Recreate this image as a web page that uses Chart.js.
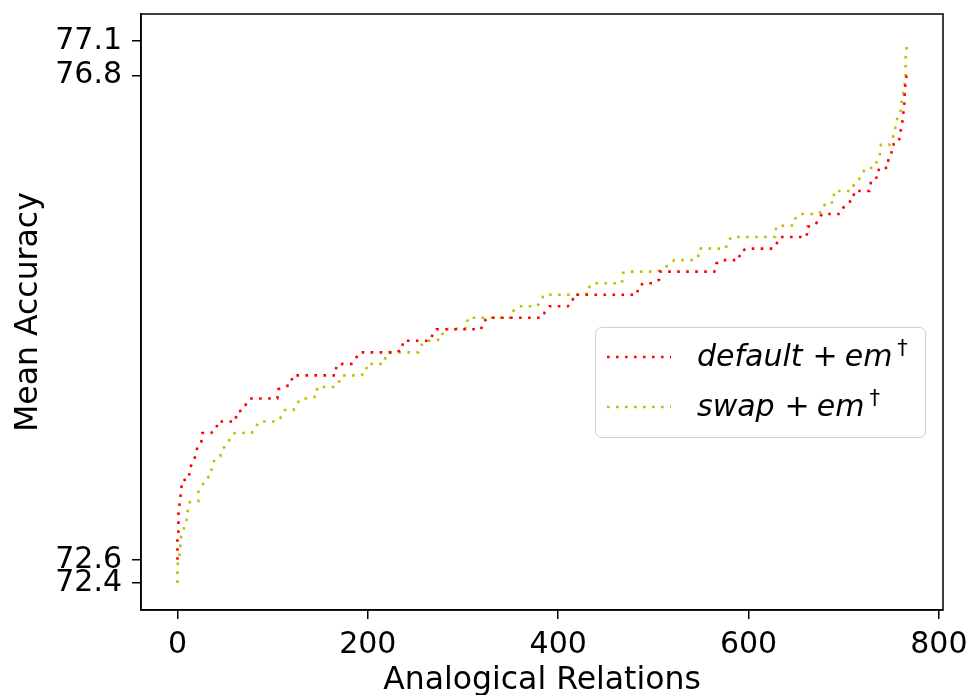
<!DOCTYPE html>
<html>
<head>
<meta charset="utf-8">
<script src="https://cdn.jsdelivr.net/npm/chart.js@4/dist/chart.umd.min.js"></script>
<style>
  html, body { margin: 0; padding: 0; background: #fff; }
  #wrap { width: 968px; height: 695px; }
</style>
</head>
<body>
<div id="wrap"><canvas id="accChart" width="968" height="695"></canvas></div>
<script>
// values (x = relation index, y = mean accuracy)
const defaultX = [0, 0, 0, 1, 1, 1, 2, 3, 4, 5, 12, 13, 16, 19, 21, 25, 26, 35, 41, 42, 61, 62, 69, 72, 76, 105,
  106, 112, 119, 121, 166, 167, 174, 183, 187, 191, 229, 236, 237, 265, 268, 272, 319, 321, 326, 383, 386, 391,
  410, 415, 416, 483, 484, 490, 500, 506, 507, 564, 566, 571, 590, 591, 598, 626, 630, 633, 661, 662, 669, 674,
  677, 696, 700, 704, 710, 711, 727, 729, 736, 737, 746, 747, 750, 751, 758, 759, 761, 762, 763, 764, 764, 765, 766];
const defaultY = [72.6, 72.7, 72.77, 72.85, 72.92, 73.0, 73.07, 73.14, 73.21, 73.29, 73.3, 73.39, 73.45, 73.5, 73.58,
  73.62, 73.7, 73.7, 73.73, 73.8, 73.8, 73.88, 73.9, 73.95, 74.0, 74.0, 74.08, 74.1, 74.12, 74.2, 74.2, 74.29, 74.3,
  74.3, 74.34, 74.4, 74.4, 74.42, 74.5, 74.5, 74.55, 74.6, 74.6, 74.66, 74.7, 74.7, 74.75, 74.8, 74.8, 74.83, 74.9,
  74.9, 74.97, 75.0, 75.0, 75.03, 75.1, 75.1, 75.17, 75.2, 75.2, 75.27, 75.3, 75.3, 75.35, 75.4, 75.4, 75.49, 75.5,
  75.55, 75.6, 75.6, 75.66, 75.7, 75.72, 75.8, 75.8, 75.9, 75.92, 76.0, 76.0, 76.08, 76.12, 76.2, 76.22, 76.3, 76.36,
  76.43, 76.5, 76.58, 76.66, 76.74, 76.8];

const swapX = [0, 0, 0, 2, 3, 3, 8, 10, 11, 13, 22, 22, 26, 29, 35, 36, 39, 45, 47, 52, 55, 60, 78, 82, 86, 105, 110,
  113, 122, 125, 130, 139, 146, 147, 166, 170, 173, 192, 198, 199, 217, 219, 225, 253, 256, 261, 271, 278, 279, 304,
  305, 351, 353, 359, 378, 382, 385, 423, 432, 433, 440, 467, 468, 476, 504, 517, 522, 540, 547, 548, 576, 578, 582,
  628, 629, 638, 647, 649, 654, 674, 678, 681, 689, 690, 708, 711, 716, 723, 732, 735, 738, 739, 748, 751, 753, 755,
  757, 760, 761, 763, 765, 765, 765, 766, 766];
const swapY = [72.4, 72.47, 72.55, 72.63, 72.7, 72.78, 72.9, 72.96, 73.04, 73.1, 73.11, 73.19, 73.24, 73.3, 73.33,
  73.4, 73.47, 73.5, 73.56, 73.6, 73.65, 73.7, 73.7, 73.75, 73.8, 73.8, 73.85, 73.9, 73.9, 73.95, 74.0, 74.0, 74.02,
  74.1, 74.1, 74.15, 74.2, 74.2, 74.22, 74.3, 74.3, 74.38, 74.4, 74.4, 74.46, 74.5, 74.5, 74.52, 74.6, 74.61, 74.7,
  74.7, 74.76, 74.8, 74.8, 74.85, 74.9, 74.9, 74.91, 74.98, 75.0, 75.0, 75.09, 75.1, 75.1, 75.16, 75.2, 75.2, 75.22,
  75.3, 75.3, 75.36, 75.4, 75.4, 75.49, 75.5, 75.5, 75.56, 75.6, 75.6, 75.64, 75.7, 75.7, 75.8, 75.8, 75.86, 75.9,
  76.0, 76.0, 76.06, 76.12, 76.2, 76.2, 76.25, 76.3, 76.38, 76.46, 76.5, 76.59, 76.66, 76.8, 76.87, 76.95, 77.03, 77.1];

const xTicks = [0, 200, 400, 600, 800];
const yTicks = [72.4, 72.6, 76.8, 77.1];
const seriesNames = ['default', 'swap'];

const RED = '#ff0000';
const OLIVE = '#bfbf00';
const FONT = '"DejaVu Sans", sans-serif';
const DOTS = [2.6, 6.4];

function toPoints(xs, ys) {
  return xs.map((x, i) => ({ x: x, y: ys[i] }));
}

// legend + outer frame + axis titles, drawn like the matplotlib original
const decorPlugin = {
  id: 'decor',
  afterDraw(chart) {
    const ctx = chart.ctx;
    const a = chart.chartArea;
    ctx.save();

    // frame (top + right spines as well)
    ctx.strokeStyle = '#000';
    ctx.lineWidth = 1.5;
    ctx.strokeRect(a.left, a.top, a.right - a.left, a.bottom - a.top);

    // axis titles
    ctx.fillStyle = '#000';
    ctx.font = '31.5px ' + FONT;
    ctx.textAlign = 'center';
    ctx.textBaseline = 'alphabetic';
    ctx.fillText('Analogical Relations', (a.left + a.right) / 2, 689);
    ctx.save();
    ctx.translate(37, (a.top + a.bottom) / 2);
    ctx.rotate(-Math.PI / 2);
    ctx.fillText('Mean Accuracy', 0, 0);
    ctx.restore();

    // legend box
    const bx = 595.5, by = 327.5, bw = 330, bh = 110, r = 6;
    ctx.beginPath();
    ctx.moveTo(bx + r, by);
    ctx.arcTo(bx + bw, by, bx + bw, by + bh, r);
    ctx.arcTo(bx + bw, by + bh, bx, by + bh, r);
    ctx.arcTo(bx, by + bh, bx, by, r);
    ctx.arcTo(bx, by, bx + bw, by, r);
    ctx.closePath();
    ctx.fillStyle = 'rgba(255,255,255,0.8)';
    ctx.fill();
    ctx.strokeStyle = '#d0d0d0';
    ctx.lineWidth = 1;
    ctx.stroke();

    const rows = [366, 416];
    chart.data.datasets.forEach((ds, i) => {
      const base = rows[i];
      ctx.beginPath();
      ctx.setLineDash(DOTS);
      ctx.strokeStyle = ds.borderColor;
      ctx.lineWidth = 2.6;
      ctx.moveTo(607, base - 9);
      ctx.lineTo(671, base - 9);
      ctx.stroke();
      ctx.setLineDash([]);

      ctx.fillStyle = '#000';
      ctx.textAlign = 'left';
      let x = 697;
      ctx.font = 'italic 30px ' + FONT;
      ctx.fillText(ds.label, x, base);
      x += ctx.measureText(ds.label).width + 10;
      ctx.font = '30px ' + FONT;
      ctx.fillText('+', x, base);
      x += ctx.measureText('+').width + 7;
      ctx.font = 'italic 30px ' + FONT;
      ctx.fillText('em', x, base);
      x += ctx.measureText('em').width + 5;
      ctx.font = '21px ' + FONT;
      ctx.fillText('\u2020', x, base - 11);
    });
    ctx.restore();
  }
};

// keep the plot box where the reference has it, whatever the label overhang
function fixX(scale) {
  scale.height = 85;
  scale.paddingLeft = 0;
  scale.paddingRight = 0;
}
function fixY(scale) {
  scale.width = 141;
  scale.paddingTop = 0;
  scale.paddingBottom = 0;
}

const ctx = document.getElementById('accChart').getContext('2d');
const accChart = new Chart(ctx, {
  type: 'line',
  data: {
    datasets: [{
      label: seriesNames[0],
      data: toPoints(defaultX, defaultY),
      borderColor: RED,
      borderWidth: 2.6,
      borderDash: DOTS,
      borderCapStyle: 'butt',
      pointRadius: 0,
      tension: 0,
      fill: false,
    }, {
      label: seriesNames[1],
      data: toPoints(swapX, swapY),
      borderColor: OLIVE,
      borderWidth: 2.6,
      borderDash: DOTS,
      borderCapStyle: 'butt',
      pointRadius: 0,
      tension: 0,
      fill: false,
    }],
  },
  options: {
    responsive: false,
    animation: false,
    devicePixelRatio: 1,
    layout: { padding: { top: 14, right: 25, left: 0, bottom: 0 } },
    plugins: {
      legend: { display: false },
      tooltip: { enabled: false },
    },
    scales: {
      x: {
        type: 'linear',
        min: -38.3,
        max: 804.3,
        afterBuildTicks: (scale) => { scale.ticks = xTicks.map(v => ({ value: v })); },
        afterFit: fixX,
        grid: { display: true, drawOnChartArea: false, drawTicks: true, tickLength: 9, color: '#000', lineWidth: 1.5 },
        border: { display: true, color: '#000', width: 1.5 },
        ticks: {
          autoSkip: false,
          maxRotation: 0,
          padding: 8,
          color: '#000',
          font: { family: FONT, size: 30 },
          callback: (v) => String(v),
        },
      },
      y: {
        type: 'linear',
        min: 72.165,
        max: 77.335,
        afterBuildTicks: (scale) => { scale.ticks = yTicks.map(v => ({ value: v })); },
        afterFit: fixY,
        grid: { display: true, drawOnChartArea: false, drawTicks: true, tickLength: 9, color: '#000', lineWidth: 1.5 },
        border: { display: true, color: '#000', width: 1.5 },
        ticks: {
          autoSkip: false,
          padding: 10,
          color: '#000',
          font: { family: FONT, size: 30 },
          callback: (v) => v.toFixed(1),
        },
      },
    },
  },
  plugins: [decorPlugin],
});
</script>
</body>
</html>
